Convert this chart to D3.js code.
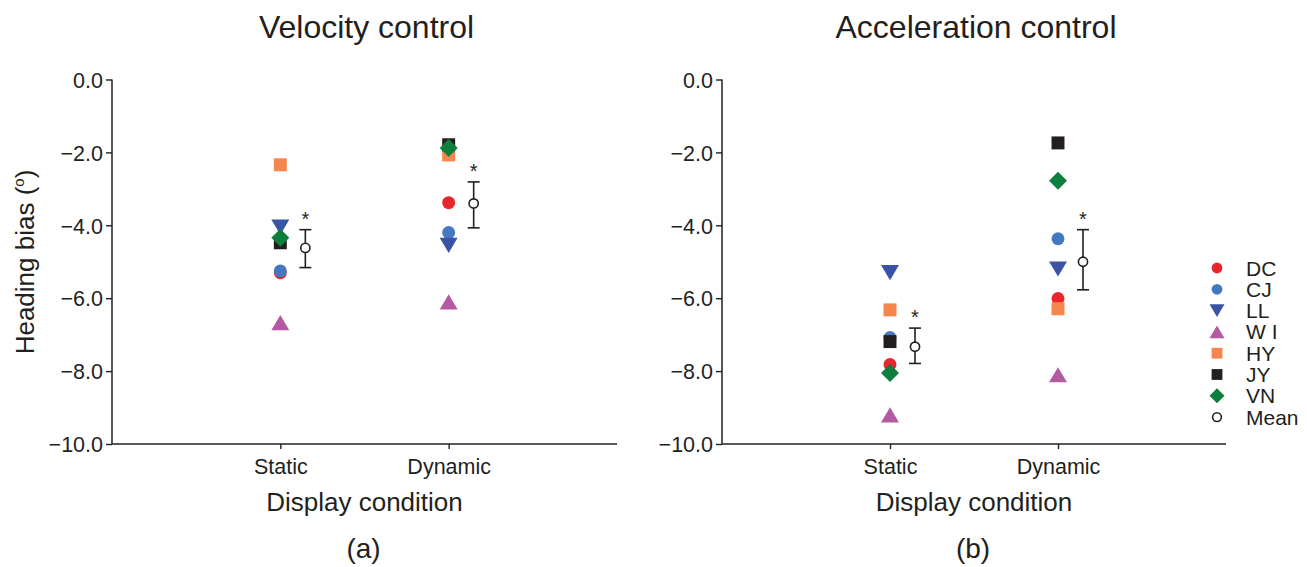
<!DOCTYPE html>
<html><head><meta charset="utf-8">
<script src="https://cdn.jsdelivr.net/npm/d3@7"></script>
<style>body{margin:0;background:#fff}svg{display:block}text{font-family:"Liberation Sans",Arial,sans-serif;fill:#231f20}</style>
</head><body>
<svg id="c" width="1307" height="567"></svg>
<script>
// ---- data ----
const participants = ["DC","CJ","LL","WI","HY","JY","VN"];
const conditions = ["Static","Dynamic"];
const yTicks = [0,-2,-4,-6,-8,-10];
// individual heading bias per participant [Static, Dynamic]
const velocityStatic  = [-5.30,-5.25,-4.05,-6.67,-2.34,-4.48,-4.34];
const velocityDynamic = [-3.38,-4.20,-4.55,-6.10,-2.07,-1.79,-1.88];
const accelStatic     = [-7.82,-7.08,-5.30,-9.20,-6.32,-7.19,-8.05];
const accelDynamic    = [-6.01,-4.37,-5.20,-8.10,-6.29,-1.74,-2.78];
// means with error bar bounds [Static, Dynamic]
const velocityMean = [-4.62,-3.40];
const velocityHi   = [-4.12,-2.81];
const velocityLo   = [-5.16,-4.07];
const accelMean    = [-7.33,-5.00];
const accelHi      = [-6.82,-4.12];
const accelLo      = [-7.79,-5.77];

const colors = {DC:"#e8262b",CJ:"#4479c2",LL:"#3954a4",WI:"#b45aa3",HY:"#f5874e",JY:"#231f20",VN:"#0f7f3f"};
const shapes = {DC:"circle",CJ:"circle",LL:"tdown",WI:"tup",HY:"square",JY:"square",VN:"diamond"};

function shapePath(type, s){
  const h=s/2;
  if(type==="circle"){const r=s*0.36;return `M${r},0A${r},${r} 0 1,1 ${-r},0A${r},${r} 0 1,1 ${r},0Z`;}
  if(type==="square"){const a=s*0.36;return `M${-a},${-a}H${a}V${a}H${-a}Z`;}
  if(type==="diamond"){const a=h;return `M0,${-a}L${a},0L0,${a}L${-a},0Z`;}
  const th=s*0.42;
  if(type==="tup") return `M0,${-th}L${h},${th}L${-h},${th}Z`;
  return `M0,${th}L${h},${-th}L${-h},${-th}Z`;
}

const svg = d3.select("#c");
const ink="#231f20";
const FF='"Liberation Sans",Arial,sans-serif';

const panels = [
  {title:"Velocity control", label:"(a)", x0:112, x1:617, data:[velocityStatic,velocityDynamic], mean:velocityMean, hi:velocityHi, lo:velocityLo},
  {title:"Acceleration control", label:"(b)", x0:722, x1:1226, data:[accelStatic,accelDynamic], mean:accelMean, hi:accelHi, lo:accelLo}
];

const y = d3.scaleLinear().domain([0,-10]).range([79.5,444]);

panels.forEach((p,pi)=>{
  const x = d3.scaleLinear().domain([0,3]).range([p.x0,p.x1]);
  const g = svg.append("g");

  // y axis
  const ya = g.append("g").attr("transform",`translate(${p.x0},0)`)
    .call(d3.axisLeft(y).tickValues(yTicks).tickSize(6).tickPadding(3)
      .tickFormat(d=>d3.format(".1f")(d).replace("-","\u2212")));
  ya.select(".domain").remove();
  ya.selectAll("line").attr("stroke",ink).attr("stroke-width",1.4);
  ya.selectAll("text").attr("font-size",21.5).attr("font-family",FF).attr("fill",ink).attr("dy","0.36em");
  g.append("line").attr("x1",p.x0).attr("x2",p.x0).attr("y1",y(0)).attr("y2",y(-10)).attr("stroke",ink).attr("stroke-width",1.5);

  // x axis
  const xa = g.append("g").attr("transform",`translate(0,${y(-10)})`)
    .call(d3.axisBottom(x).tickValues([1,2]).tickSize(5).tickPadding(10)
      .tickFormat(d=>conditions[d-1]));
  xa.select(".domain").remove();
  xa.selectAll("line").attr("stroke",ink).attr("stroke-width",1.4);
  xa.selectAll("text").attr("font-size",21.5).attr("font-family",FF).attr("fill",ink);
  g.append("line").attr("x1",p.x0).attr("x2",p.x1).attr("y1",y(-10)).attr("y2",y(-10)).attr("stroke",ink).attr("stroke-width",1.5);

  // titles
  g.append("text").attr("x",(p.x0+p.x1)/2+2).attr("y",38).attr("text-anchor","middle").attr("font-size",32).text(p.title);
  g.append("text").attr("x",(p.x0+p.x1)/2).attr("y",511).attr("text-anchor","middle").attr("font-size",26).text("Display condition");
  g.append("text").attr("x",(p.x0+p.x1)/2-1).attr("y",558).attr("text-anchor","middle").attr("font-size",28).text(p.label);

  // points
  conditions.forEach((c,ci)=>{
    participants.forEach((name,k)=>{
      g.append("path").attr("d",shapePath(shapes[name],18))
        .attr("transform",`translate(${x(ci+1)},${y(p.data[ci][k])})`)
        .attr("fill",colors[name]);
    });
    const mx = x(ci+1)+25;
    g.append("line").attr("x1",mx).attr("x2",mx).attr("y1",y(p.hi[ci])).attr("y2",y(p.lo[ci])).attr("stroke",ink).attr("stroke-width",1.6);
    [p.hi[ci],p.lo[ci]].forEach(v=>g.append("line").attr("x1",mx-6).attr("x2",mx+6).attr("y1",y(v)).attr("y2",y(v)).attr("stroke",ink).attr("stroke-width",1.6));
    g.append("circle").attr("cx",mx).attr("cy",y(p.mean[ci])).attr("r",4.6).attr("fill","#fff").attr("stroke",ink).attr("stroke-width",1.6);
    g.append("text").attr("x",mx).attr("y",y(p.hi[ci])-4).attr("text-anchor","middle").attr("font-size",20).text("*");
  });
});

// y label
const yl = svg.append("text").attr("transform","translate(34,262) rotate(-90)").attr("text-anchor","middle").attr("font-size",26);
yl.append("tspan").text("Heading bias (");
yl.append("tspan").attr("font-size",15).attr("dy",-10).text("o");
yl.append("tspan").attr("dy",10).text(")");

// legend
const legendItems = participants.concat(["Mean"]);
const lg = svg.append("g");
legendItems.forEach((name,i)=>{
  const ly = 268 + i*21.3;
  if(name==="Mean"){
    lg.append("circle").attr("cx",1217).attr("cy",ly).attr("r",4.4).attr("fill","#fff").attr("stroke",ink).attr("stroke-width",1.6);
  } else {
    lg.append("path").attr("d",shapePath(shapes[name],15)).attr("transform",`translate(1217,${ly})`).attr("fill",colors[name]);
  }
  lg.append("text").attr("x",1246).attr("y",ly+7.5).attr("font-size",21).text(name==="WI"?"W I":name);
});
</script>
</body></html>
